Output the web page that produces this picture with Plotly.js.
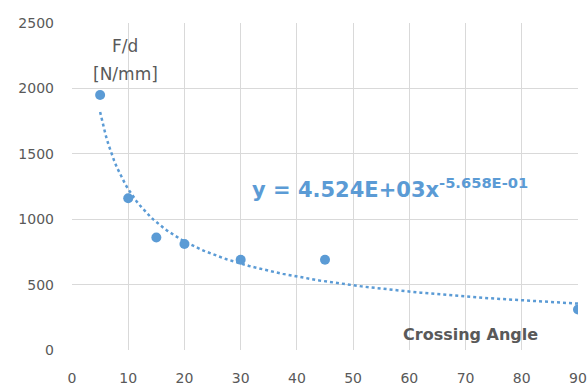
<!DOCTYPE html>
<html><head><meta charset="utf-8">
<script src="https://cdn.plot.ly/plotly-3.0.1.min.js"></script>
<style>html,body{margin:0;padding:0;background:#fff}#c{width:587px;height:385px}</style>
</head><body><div id="c"></div>
<script>
const angles = [5, 10, 15, 20, 30, 45, 90];
const forces = [1950, 1160, 860, 810, 690, 690, 310];
const xTicks = [0, 10, 20, 30, 40, 50, 60, 70, 80, 90];
const yTicks = [0, 500, 1000, 1500, 2000, 2500];
// power trendline coefficients shown on the chart: y = A * x^B
const trendA = 4524;
const trendB = -0.5658;
const trendX = [];
for (let x = 5; x <= 90; x += 0.5) trendX.push(x);
const trendY = trendX.map(x => trendA * Math.pow(x, trendB));

const blue = '#5b9bd5';
const gray = '#595959';
const F = 'DejaVu Sans, sans-serif';
const L = 72, R = 578, T = 23, B = 350, W = 587, H = 385;
const px2x = p => (p - L) / (R - L) * 90;
const py2y = p => (B - p) / (B - T) * 2500;

const data = [
  {x: trendX, y: trendY, type: 'scatter', mode: 'lines',
   line: {color: blue, width: 2.5, dash: 'dot'}, hoverinfo: 'skip'},
  {x: angles, y: forces, type: 'scatter', mode: 'markers',
   marker: {color: blue, size: 10}}
];
const layout = {
  width: W, height: H,
  margin: {l: L, r: W - R, t: T, b: H - B},
  paper_bgcolor: '#fff', plot_bgcolor: '#fff',
  showlegend: false,
  font: {family: F, color: gray, size: 14},
  xaxis: {range: [0, 90], tickvals: xTicks, ticktext: xTicks.map(String),
    showgrid: true, gridcolor: '#d9d9d9', gridwidth: 1, zeroline: false,
    showline: false, ticks: '', ticklabelstandoff: 18, ticklabeloverflow: 'allow',
    tickfont: {family: F, size: 14, color: gray}},
  yaxis: {range: [0, 2500], tickvals: yTicks, ticktext: yTicks.map(String),
    showgrid: true, gridcolor: '#d9d9d9', gridwidth: 1, zeroline: false,
    showline: false, ticks: '', ticklabelstandoff: 17,
    tickfont: {family: F, size: 14, color: gray}},
  annotations: [
    {text: 'F/d', x: px2x(125), y: py2y(46), xref: 'x', yref: 'y', showarrow: false,
     font: {family: F, size: 17, color: gray}},
    {text: '[N/mm]', x: px2x(125), y: py2y(74), xref: 'x', yref: 'y', showarrow: false,
     font: {family: F, size: 17, color: gray}},
    {text: '<b>y = 4.524E+03x<sup>-5.658E-01</sup></b>', x: px2x(250), y: py2y(188),
     xref: 'x', yref: 'y', showarrow: false, font: {family: F, size: 21, color: blue},
     xanchor: 'left', yanchor: 'middle'},
    {text: '<b>Crossing Angle</b>', x: px2x(470), y: py2y(334), xref: 'x', yref: 'y',
     showarrow: false, font: {family: F, size: 16, color: gray}}
  ]
};
Plotly.newPlot('c', data, layout, {displayModeBar: false, staticPlot: true});
</script></body></html>
